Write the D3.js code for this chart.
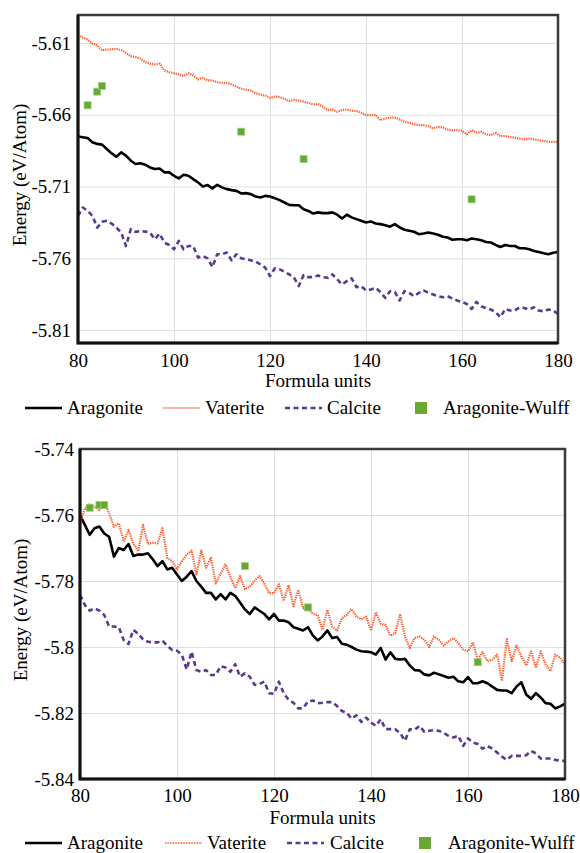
<!DOCTYPE html>
<html lang="en">
<head>
<meta charset="UTF-8">
<title>Formation energy vs formula units</title>
<script src="https://d3js.org/d3.v7.min.js"></script>
<style>
    body { margin: 0; background: #fff; }
    .grid line { stroke: #dedede; stroke-width: 1; }
    .grid .domain { display: none; }
    .axis .domain { display: none; }
</style>
</head>
<body>
<svg width="580" height="853"></svg>
<script>
    // x categories (formula units)
    const units = d3.range(80, 181);
    const xTicks = [80, 100, 120, 140, 160, 180];

    // top panel
    const topYTicks = [-5.61, -5.66, -5.71, -5.76, -5.81];
    const topAragonite = [-5.6752, -5.6757, -5.6762, -5.6792, -5.6803, -5.6808, -5.6838, -5.6869, -5.6892, -5.6862,
        -5.6885, -5.692, -5.6943, -5.6938, -5.6948, -5.6967, -5.6978, -5.6974, -5.7001, -5.7001,
        -5.7025, -5.7043, -5.7018, -5.7025, -5.7048, -5.7071, -5.7099, -5.709, -5.7113, -5.7088,
        -5.7106, -5.7118, -5.7125, -5.713, -5.7148, -5.7146, -5.7153, -5.717, -5.7176, -5.7165,
        -5.717, -5.7181, -5.7195, -5.7211, -5.7228, -5.723, -5.723, -5.7258, -5.727, -5.7288,
        -5.728, -5.7285, -5.7285, -5.728, -5.7296, -5.7322, -5.7296, -5.7315, -5.7327, -5.7339,
        -5.735, -5.7343, -5.7357, -5.7362, -5.7369, -5.738, -5.7362, -5.7385, -5.7401, -5.7408,
        -5.7415, -5.7432, -5.7427, -5.742, -5.7427, -5.7436, -5.745, -5.7455, -5.7471, -5.7467,
        -5.7467, -5.7474, -5.7462, -5.7467, -5.7474, -5.7486, -5.749, -5.7507, -5.7521, -5.7507,
        -5.7514, -5.7514, -5.753, -5.753, -5.7537, -5.7549, -5.7556, -5.7565, -5.7572, -5.7561,
        -5.7556];
    const topVaterite = [-5.6046, -5.6063, -5.6074, -5.6105, -5.6116, -5.6151, -5.6146, -5.6144, -5.614, -5.6151,
        -5.6168, -5.6193, -5.6198, -5.6209, -5.6233, -5.6244, -5.6249, -5.6244, -5.6291, -5.6303,
        -5.631, -5.6319, -5.6331, -5.631, -5.6326, -5.6354, -5.6342, -5.6361, -5.6361, -5.6373,
        -5.6377, -5.6377, -5.6389, -5.6403, -5.6419, -5.6426, -5.6431, -5.6449, -5.6459, -5.6466,
        -5.6482, -5.6473, -5.6477, -5.6489, -5.6505, -5.6496, -5.6501, -5.6508, -5.6517, -5.6529,
        -5.6524, -5.6544, -5.6567, -5.6563, -5.6579, -5.6567, -5.6563, -5.6572, -5.6574, -5.6586,
        -5.6602, -5.6602, -5.6602, -5.6637, -5.6626, -5.6621, -5.6619, -5.6633, -5.6649, -5.6656,
        -5.6665, -5.6672, -5.6672, -5.6679, -5.6696, -5.6684, -5.6689, -5.6703, -5.6707, -5.6707,
        -5.6712, -5.6736, -5.6707, -5.6724, -5.6719, -5.6736, -5.6743, -5.6726, -5.675, -5.6748,
        -5.6755, -5.6759, -5.6766, -5.6771, -5.6766, -5.6771, -5.6778, -5.6782, -5.6789, -5.6789,
        -5.6789];
    const topCalcite = [-5.7304, -5.7246, -5.7269, -5.7304, -5.7386, -5.7346, -5.7339, -5.7358, -5.7386, -5.7421,
        -5.7514, -5.7397, -5.7416, -5.7409, -5.7414, -5.7421, -5.7467, -5.7428, -5.7491, -5.7507,
        -5.7537, -5.7479, -5.7537, -5.7514, -5.7514, -5.7595, -5.7584, -5.76, -5.7661, -5.7572,
        -5.7572, -5.756, -5.7614, -5.7572, -5.76, -5.7607, -5.7614, -5.7623, -5.7642, -5.7665,
        -5.7724, -5.767, -5.7677, -5.7693, -5.7712, -5.7735, -5.7793, -5.7717, -5.7731, -5.7731,
        -5.772, -5.7731, -5.7736, -5.7712, -5.7747, -5.7782, -5.7759, -5.774, -5.7801, -5.7794,
        -5.7824, -5.7817, -5.7806, -5.7834, -5.7876, -5.7829, -5.7834, -5.7894, -5.7829, -5.7841,
        -5.7864, -5.7841, -5.7824, -5.7841, -5.7852, -5.7864, -5.7871, -5.7864, -5.788, -5.7894,
        -5.7904, -5.7918, -5.7953, -5.7904, -5.7934, -5.7946, -5.7957, -5.7974, -5.8011, -5.7953,
        -5.7964, -5.7964, -5.7941, -5.7946, -5.7957, -5.7941, -5.7964, -5.7969, -5.7957, -5.7964,
        -5.7988];

    // bottom panel
    const botYTicks = [-5.74, -5.76, -5.78, -5.80, -5.82, -5.84];
    const botAragonite = [-5.760, -5.763, -5.766, -5.764, -5.7635, -5.7656, -5.7666, -5.7726, -5.770, -5.7706,
        -5.7688, -5.7724, -5.772, -5.772, -5.7716, -5.7734, -5.7755, -5.774, -5.7765, -5.776,
        -5.778, -5.780, -5.7787, -5.777, -5.780, -5.7817, -5.7836, -5.7836, -5.7856, -5.784,
        -5.7856, -5.7836, -5.7845, -5.7865, -5.7886, -5.790, -5.788, -5.789, -5.790, -5.7916,
        -5.790, -5.792, -5.792, -5.7925, -5.794, -5.7945, -5.795, -5.794, -5.7965, -5.798,
        -5.7968, -5.795, -5.7973, -5.797, -5.799, -5.7993, -5.800, -5.8008, -5.8013, -5.8014,
        -5.8016, -5.8023, -5.8003, -5.8038, -5.8016, -5.8036, -5.8038, -5.8036, -5.8056, -5.807,
        -5.8071, -5.8083, -5.8086, -5.8078, -5.8083, -5.8088, -5.8093, -5.809, -5.8104, -5.8107,
        -5.8091, -5.811, -5.811, -5.8104, -5.811, -5.812, -5.813, -5.8132, -5.8132, -5.814,
        -5.812, -5.8107, -5.8144, -5.8157, -5.814, -5.8153, -5.817, -5.8172, -5.8186, -5.818,
        -5.8172];
    const botVaterite = [-5.7625, -5.758, -5.7567, -5.7575, -5.7585, -5.756, -5.7595, -5.7635, -5.7625, -5.768,
        -5.7645, -5.7686, -5.771, -5.763, -5.7688, -5.7684, -5.7686, -5.764, -5.773, -5.774,
        -5.7765, -5.774, -5.772, -5.7708, -5.778, -5.7708, -5.776, -5.773, -5.7807, -5.7777,
        -5.775, -5.7787, -5.7822, -5.7785, -5.7825, -5.7817, -5.7799, -5.7785, -5.7807, -5.7837,
        -5.7837, -5.781, -5.786, -5.7812, -5.7876, -5.7827, -5.7883, -5.788, -5.790, -5.7903,
        -5.7948, -5.7887, -5.7938, -5.795, -5.7913, -5.7903, -5.7885, -5.7908, -5.7916, -5.7908,
        -5.795, -5.7895, -5.793, -5.7933, -5.7966, -5.7958, -5.790, -5.7968, -5.8003, -5.7973,
        -5.7968, -5.7978, -5.800, -5.7968, -5.7978, -5.7996, -5.7983, -5.7973, -5.7988, -5.8008,
        -5.8013, -5.7986, -5.8038, -5.8016, -5.8043, -5.8038, -5.8023, -5.8103, -5.7976, -5.8043,
        -5.7996, -5.8028, -5.8056, -5.8013, -5.8063, -5.8013, -5.8053, -5.8073, -5.8023, -5.8033,
        -5.8053];
    const botCalcite = [-5.7842, -5.7873, -5.789, -5.7883, -5.789, -5.7903, -5.7938, -5.7938, -5.794, -5.7979,
        -5.7991, -5.7948, -5.796, -5.7977, -5.7984, -5.7986, -5.7986, -5.7981, -5.7996, -5.8009,
        -5.8011, -5.8024, -5.8068, -5.8014, -5.807, -5.8075, -5.807, -5.8085, -5.8085, -5.8058,
        -5.8062, -5.8075, -5.8052, -5.809, -5.808, -5.809, -5.8115, -5.8112, -5.8105, -5.814,
        -5.8142, -5.8105, -5.814, -5.816, -5.8169, -5.8186, -5.8186, -5.8165, -5.8162, -5.817,
        -5.8169, -5.8167, -5.8167, -5.8179, -5.8194, -5.8199, -5.8217, -5.8207, -5.8227, -5.8214,
        -5.8229, -5.8239, -5.8219, -5.8249, -5.8249, -5.8249, -5.8261, -5.8284, -5.8249, -5.8251,
        -5.8239, -5.8257, -5.8254, -5.8252, -5.8254, -5.8261, -5.8269, -5.8274, -5.8269, -5.830,
        -5.8277, -5.8289, -5.8294, -5.8308, -5.830, -5.8308, -5.832, -5.8332, -5.8342, -5.833,
        -5.833, -5.833, -5.8328, -5.8315, -5.8322, -5.8338, -5.8338, -5.8338, -5.8342, -5.8345,
        -5.8345];

    // Aragonite-Wulff points
    const wulffUnits = [82, 84, 85, 114, 127, 162];
    const topWulff = [-5.6534, -5.6439, -5.640, -5.6718, -5.6908, -5.7189];
    const botWulff = [-5.7578, -5.757, -5.757, -5.7755, -5.788, -5.8046];

    const seriesNames = ["Aragonite", "Vaterite", "Calcite", "Aragonite-Wulff"];

    const serif = "'Liberation Serif', 'Times New Roman', 'DejaVu Serif', serif";
    const svg = d3.select("svg");

    const styles = {
        Aragonite: {stroke: "#000", width: 2.6, dash: null},
        Vaterite: {stroke: "#ff5e2e", width: 2.2, dash: "1.3,1"},
        Calcite: {stroke: "#5a3a8e", width: 2.6, dash: "5,3.5"}
    };

    const fmt = d => String(+d.toFixed(2));

    function label(sel, size) {
        return sel.style("font-family", serif).style("font-size", size + "px").attr("fill", "#000");
    }

    function panel(cfg) {
        const g = svg.append("g");
        const x = d3.scaleLinear().domain([80, 180]).range([cfg.left, cfg.right]);
        const y = d3.scaleLinear().domain(cfg.domain).range([cfg.bottom, cfg.top]);
        const w = cfg.right - cfg.left;

        // gridlines
        g.append("g")
            .attr("class", "grid")
            .attr("transform", `translate(0,${cfg.bottom})`)
            .call(d3.axisBottom(x).tickValues(xTicks.slice(1, -1)).tickSize(-(cfg.bottom - cfg.top)).tickFormat(""));
        g.append("g")
            .attr("class", "grid")
            .attr("transform", `translate(${cfg.left},0)`)
            .call(d3.axisLeft(y).tickValues(cfg.yTicks).tickSize(-w).tickFormat(""))
            .selectAll("line").attr("stroke", "#e6e6e6").attr("stroke-width", 1.6);

        // series lines
        const line = d3.line().x((d, i) => x(units[i])).y(d => y(d));
        [["Aragonite", cfg.aragonite], ["Calcite", cfg.calcite], ["Vaterite", cfg.vaterite]].forEach(([name, vals]) => {
            const s = styles[name];
            g.append("path")
                .datum(vals)
                .attr("fill", "none")
                .attr("stroke", s.stroke)
                .attr("stroke-width", s.width)
                .attr("stroke-dasharray", s.dash)
                .attr("stroke-linejoin", "round")
                .attr("d", line);
        });

        // wulff squares
        g.selectAll("rect.wulff")
            .data(wulffUnits)
            .join("rect")
            .attr("class", "wulff")
            .attr("x", d => x(d) - 3.5)
            .attr("y", (d, i) => y(cfg.wulff[i]) - 3.5)
            .attr("width", 7)
            .attr("height", 7)
            .attr("fill", "#66a832")
            .attr("stroke", "#9fcf7a")
            .attr("stroke-width", 0.8);

        // frame
        g.append("rect")
            .attr("x", cfg.left).attr("y", cfg.top)
            .attr("width", w).attr("height", cfg.bottom - cfg.top)
            .attr("fill", "none").attr("stroke", "#3a3a3a").attr("stroke-width", 2.5);
        g.append("path")
            .attr("d", `M${cfg.left},${cfg.top}V${cfg.bottom}H${cfg.right}`)
            .attr("fill", "none").attr("stroke", "#111").attr("stroke-width", 3);

        // axes labels
        g.append("g")
            .attr("class", "axis")
            .attr("transform", `translate(${cfg.left},0)`)
            .call(d3.axisLeft(y).tickValues(cfg.yTicks).tickSize(0).tickPadding(cfg.yPad).tickFormat(fmt))
            .selectAll("text")
            .call(label, cfg.font);
        g.append("g")
            .attr("class", "axis")
            .attr("transform", `translate(0,${cfg.bottom})`)
            .call(d3.axisBottom(x).tickValues(xTicks).tickSize(0).tickPadding(cfg.xPad))
            .selectAll("text")
            .call(label, cfg.font);

        g.append("text")
            .attr("x", (cfg.left + cfg.right) / 2)
            .attr("y", cfg.titleY)
            .attr("text-anchor", "middle")
            .call(label, cfg.font)
            .text("Formula units");

        g.append("text")
            .attr("transform", `translate(${cfg.yTitleX},${(cfg.top + cfg.bottom) / 2 - 4}) rotate(-90)`)
            .attr("text-anchor", "middle")
            .call(label, cfg.font)
            .text("Energy (eV/Atom)");

        // legend
        const lg = g.append("g").attr("transform", `translate(0,${cfg.legendY})`);
        seriesNames.forEach((name, i) => {
            const p = cfg.legendX[i];
            if (name === "Aragonite-Wulff") {
                lg.append("rect")
                    .attr("x", p[0]).attr("y", -6)
                    .attr("width", 12).attr("height", 12)
                    .attr("fill", "#66a832");
            } else {
                const s = styles[name];
                lg.append("line")
                    .attr("x1", p[0]).attr("x2", p[0] + 37)
                    .attr("stroke", s.stroke)
                    .attr("stroke-width", name === "Vaterite" ? 1.6 : s.width)
                    .attr("stroke-dasharray", name === "Vaterite" ? "1,0.6" : s.dash);
            }
            lg.append("text")
                .attr("x", p[1]).attr("y", cfg.font * 0.33)
                .call(label, cfg.font)
                .text(name);
        });
    }

    panel({
        left: 78, right: 558, top: 15, bottom: 343,
        domain: [-5.819, -5.5905], yTicks: topYTicks,
        aragonite: topAragonite, vaterite: topVaterite, calcite: topCalcite, wulff: topWulff,
        font: 19, yPad: 7, xPad: 11, titleY: 387, yTitleX: 26,
        legendY: 408, legendX: [[25, 67], [163, 205], [285, 327], [415, 443]]
    });

    panel({
        left: 80, right: 565, top: 449, bottom: 779,
        domain: [-5.84, -5.74], yTicks: botYTicks,
        aragonite: botAragonite, vaterite: botVaterite, calcite: botCalcite, wulff: botWulff,
        font: 19, yPad: 6, xPad: 10, titleY: 824, yTitleX: 27,
        legendY: 843, legendX: [[25, 67], [165, 207], [287, 330], [419, 448]]
    });
</script>
</body>
</html>
